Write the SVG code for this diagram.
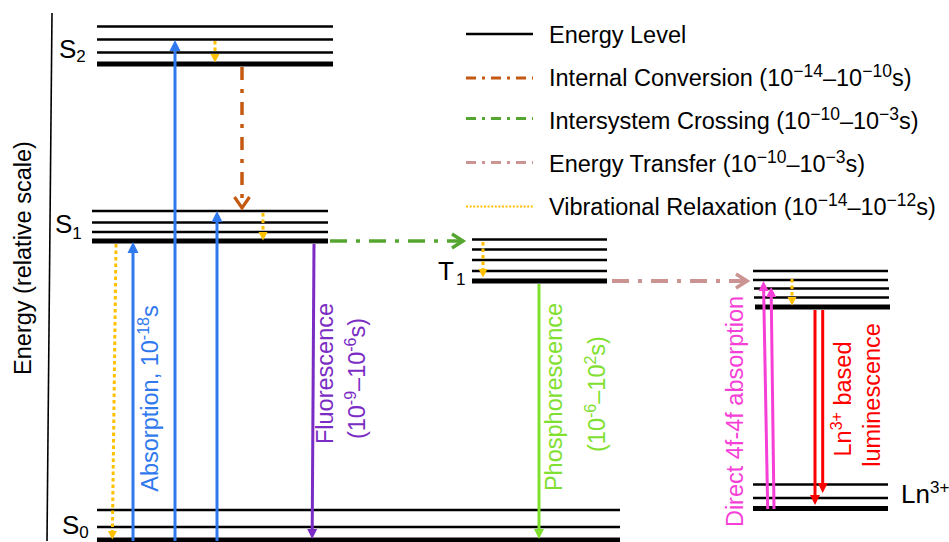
<svg xmlns="http://www.w3.org/2000/svg" width="949" height="542" viewBox="0 0 949 542">
<style>
.t{font-family:"Liberation Sans",Arial,sans-serif;font-size:23.5px;fill:#000}
.lab{font-family:"Liberation Sans",Arial,sans-serif;font-size:26px;fill:#000}
.thin{stroke:#000;stroke-width:2.6}
.thick{stroke:#000;stroke-width:5.2}
.abs{stroke:#2F78EE;stroke-width:3;marker-end:url(#ah-blue)}
.flu{stroke:#7B2CC4;stroke-width:3;marker-end:url(#ah-purple)}
.pho{stroke:#80E030;stroke-width:3;marker-end:url(#ah-lime)}
.mag{stroke:#F53FD6;stroke-width:3;marker-end:url(#ah-mag)}
.red{stroke:#FF0000;stroke-width:3;marker-end:url(#ah-red)}
.vr{stroke:#FFC000;stroke-width:3;stroke-dasharray:3.5 3;marker-end:url(#ah-vr)}
.ic{stroke:#C65911;stroke-width:3.5;stroke-dasharray:13 9 4 9;fill:none;marker-end:url(#ch-ic)}
.isc{stroke:#55A630;stroke-width:3.5;stroke-dasharray:17 9 4 9;fill:none;marker-end:url(#ch-isc)}
.et{stroke:#CC9393;stroke-width:3.8;stroke-dasharray:17 9 4 9;fill:none;marker-end:url(#ch-et)}
.sup{font-size:17.5px}
</style>
<defs>
<marker id="ah-blue" markerUnits="userSpaceOnUse" markerWidth="12" markerHeight="12" refX="3" refY="5.5" orient="auto" overflow="visible"><path d="M0,0 L11,5.5 L0,11 z" fill="#2F78EE"/></marker>
<marker id="ah-purple" markerUnits="userSpaceOnUse" markerWidth="11" markerHeight="11" refX="3" refY="5" orient="auto" overflow="visible"><path d="M0,0 L10,5 L0,10 z" fill="#7B2CC4"/></marker>
<marker id="ah-lime" markerUnits="userSpaceOnUse" markerWidth="11" markerHeight="11" refX="3" refY="5" orient="auto" overflow="visible"><path d="M0,0 L10,5 L0,10 z" fill="#80E030"/></marker>
<marker id="ah-mag" markerUnits="userSpaceOnUse" markerWidth="11" markerHeight="11" refX="3" refY="5" orient="auto" overflow="visible"><path d="M0,0 L10,5 L0,10 z" fill="#F53FD6"/></marker>
<marker id="ah-red" markerUnits="userSpaceOnUse" markerWidth="11" markerHeight="11" refX="3" refY="5" orient="auto" overflow="visible"><path d="M0,0 L10,5 L0,10 z" fill="#FF0000"/></marker>
<marker id="ah-vr" markerUnits="userSpaceOnUse" markerWidth="10" markerHeight="10" refX="2" refY="4.5" orient="auto" overflow="visible"><path d="M0,0 L8.5,4.5 L0,9 z" fill="#FFC000"/></marker>
<marker id="ch-ic" markerUnits="userSpaceOnUse" markerWidth="14" markerHeight="16" refX="11" refY="7.5" orient="auto" overflow="visible"><path d="M0,0 L11,7.5 L0,15" fill="none" stroke="#C65911" stroke-width="3.2"/></marker>
<marker id="ch-isc" markerUnits="userSpaceOnUse" markerWidth="14" markerHeight="16" refX="11" refY="7" orient="auto" overflow="visible"><path d="M0,0 L11,7 L0,14" fill="none" stroke="#55A630" stroke-width="3.4"/></marker>
<marker id="ch-et" markerUnits="userSpaceOnUse" markerWidth="14" markerHeight="16" refX="11" refY="7" orient="auto" overflow="visible"><path d="M0,0 L11,7 L0,14" fill="none" stroke="#CC9393" stroke-width="3.6"/></marker>
</defs>

<g id="axis">
<line x1="52" y1="13" x2="47" y2="541" stroke="#000" stroke-width="1.6"/>
<text class="t" text-anchor="middle" transform="translate(31,258) rotate(-90)">Energy (relative scale)</text>
</g>

<g id="S2">
<line class="thin" x1="97" y1="26.5" x2="333" y2="26.5"/>
<line class="thin" x1="97" y1="39.5" x2="333" y2="39.5"/>
<line class="thin" x1="97" y1="52.5" x2="333" y2="52.5"/>
<line class="thick" x1="97" y1="64" x2="333" y2="64"/>
<text class="lab" x="59" y="58">S<tspan font-size="17" dy="4">2</tspan></text>
</g>

<g id="S1">
<line class="thin" x1="92" y1="211" x2="328" y2="211"/>
<line class="thin" x1="92" y1="222.5" x2="328" y2="222.5"/>
<line class="thin" x1="92" y1="232" x2="328" y2="232"/>
<line class="thick" x1="92" y1="241" x2="328" y2="241"/>
<text class="lab" x="55" y="233">S<tspan font-size="17" dy="6">1</tspan></text>
</g>

<g id="S0">
<line class="thin" x1="97" y1="510" x2="620" y2="510"/>
<line class="thin" x1="97" y1="527" x2="620" y2="527"/>
<line class="thick" x1="97" y1="540" x2="620" y2="540"/>
<text class="lab" x="62" y="534">S<tspan font-size="17" dy="4">0</tspan></text>
</g>

<g id="T1">
<line class="thin" x1="472" y1="239.5" x2="607" y2="239.5"/>
<line class="thin" x1="472" y1="249.5" x2="607" y2="249.5"/>
<line class="thin" x1="472" y1="260" x2="607" y2="260"/>
<line class="thin" x1="472" y1="271" x2="607" y2="271"/>
<line class="thick" x1="472" y1="281" x2="607" y2="281"/>
<text class="lab" x="438" y="280">T<tspan font-size="17" dx="2" dy="5">1</tspan></text>
</g>

<g id="Ln">
<line class="thin" x1="753" y1="271" x2="888" y2="271"/>
<line class="thin" x1="753" y1="280" x2="888" y2="280"/>
<line class="thin" x1="754" y1="288.5" x2="889" y2="288.5"/>
<line class="thin" x1="754" y1="297.5" x2="889" y2="297.5"/>
<line class="thick" x1="755" y1="307" x2="890" y2="307"/>
<line class="thin" x1="753" y1="484.5" x2="888" y2="484.5"/>
<line class="thin" x1="753" y1="498" x2="888" y2="498"/>
<line class="thick" x1="753" y1="508.5" x2="888" y2="508.5"/>
<text class="lab" x="901" y="503">Ln<tspan font-size="17" dy="-10">3+</tspan></text>
</g>

<g id="legend">
<line x1="466" y1="34" x2="533" y2="34" stroke="#000" stroke-width="2.6"/>
<line x1="466" y1="78" x2="533" y2="78" stroke="#C65911" stroke-width="2.8" stroke-dasharray="10 6 3 6"/>
<line x1="466" y1="118.5" x2="533" y2="118.5" stroke="#55A630" stroke-width="2.8" stroke-dasharray="10 6 3 6"/>
<line x1="466" y1="162.5" x2="533" y2="162.5" stroke="#CC9393" stroke-width="2.8" stroke-dasharray="10 6 3 6"/>
<line x1="466" y1="206.5" x2="533" y2="206.5" stroke="#FFC000" stroke-width="2.2" stroke-dasharray="2 1.6"/>
<text class="t" x="549" y="42.5">Energy Level</text>
<text class="t" x="549" y="86">Internal Conversion (10<tspan class="sup" dy="-9">−14</tspan><tspan dy="9">–10</tspan><tspan class="sup" dy="-9">−10</tspan><tspan dy="9">s)</tspan></text>
<text class="t" x="549" y="128.5">Intersystem Crossing (10<tspan class="sup" dy="-9">−10</tspan><tspan dy="9">–10</tspan><tspan class="sup" dy="-9">−3</tspan><tspan dy="9">s)</tspan></text>
<text class="t" x="549" y="171.5">Energy Transfer (10<tspan class="sup" dy="-9">−10</tspan><tspan dy="9">–10</tspan><tspan class="sup" dy="-9">−3</tspan><tspan dy="9">s)</tspan></text>
<text class="t" x="549" y="215">Vibrational Relaxation (10<tspan class="sup" dy="-9">−14</tspan><tspan dy="9">–10</tspan><tspan class="sup" dy="-9">−12</tspan><tspan dy="9">s)</tspan></text>
</g>

<g id="connectors">
<line class="abs" x1="175" y1="541" x2="175" y2="48"/>
<line class="abs" x1="217" y1="541" x2="217" y2="219"/>
<line class="abs" x1="133" y1="541" x2="133" y2="250"/>
<line class="vr" x1="116" y1="244" x2="112.4" y2="533"/>
<line class="vr" x1="215" y1="41" x2="215" y2="56"/>
<line class="vr" x1="263" y1="213" x2="263" y2="234"/>
<line class="vr" x1="483" y1="242" x2="483" y2="271"/>
<line class="vr" x1="792" y1="279" x2="792" y2="299"/>
<line class="ic" x1="242" y1="67" x2="242" y2="208"/>
<line class="isc" x1="330" y1="241" x2="463" y2="241"/>
<line class="et" x1="612" y1="281" x2="747" y2="281"/>
<line class="flu" x1="314" y1="244" x2="312.2" y2="532"/>
<line class="pho" x1="539" y1="284" x2="539" y2="532"/>
<line class="mag" x1="767.7" y1="509" x2="763.6" y2="288"/>
<line class="mag" x1="774" y1="509" x2="771.2" y2="294"/>
<line class="red" x1="815" y1="310" x2="815" y2="498"/>
<line class="red" x1="822.7" y1="310" x2="822.7" y2="486"/>
</g>

<g id="labels">
<text class="t" style="fill:#2F78EE" text-anchor="middle" transform="translate(157.5,398.5) rotate(-90)">Absorption, 10<tspan font-size="16" dy="-9">-18</tspan><tspan dy="9">s</tspan></text>
<text class="t" style="fill:#7B2CC4" text-anchor="middle" transform="translate(333,373.5) rotate(-90)">Fluorescence</text>
<text class="t" style="fill:#7B2CC4" text-anchor="middle" transform="translate(365,378.5) rotate(-90)">(10<tspan font-size="16" dy="-9">-9</tspan><tspan dy="9">–10</tspan><tspan font-size="16" dy="-9">-6</tspan><tspan dy="9">s)</tspan></text>
<text class="t" style="fill:#80E030" text-anchor="middle" transform="translate(562,397) rotate(-90)">Phosphorescence</text>
<text class="t" style="fill:#80E030" text-anchor="middle" transform="translate(605,394) rotate(-90)">(10<tspan font-size="16" dy="-9">-6</tspan><tspan dy="9">–10</tspan><tspan font-size="16" dy="-9">2</tspan><tspan dy="9">s)</tspan></text>
<text class="t" style="fill:#F53FD6" text-anchor="middle" transform="translate(743,411.5) rotate(-90)">Direct 4f-4f absorption</text>
<text class="t" style="fill:#FF0000" text-anchor="middle" transform="translate(851,399) rotate(-90)">Ln<tspan font-size="16" dy="-9">3+</tspan><tspan dy="9"> based</tspan></text>
<text class="t" style="fill:#FF0000" text-anchor="middle" transform="translate(880,395) rotate(-90)">luminescence</text>
</g>
</svg>
